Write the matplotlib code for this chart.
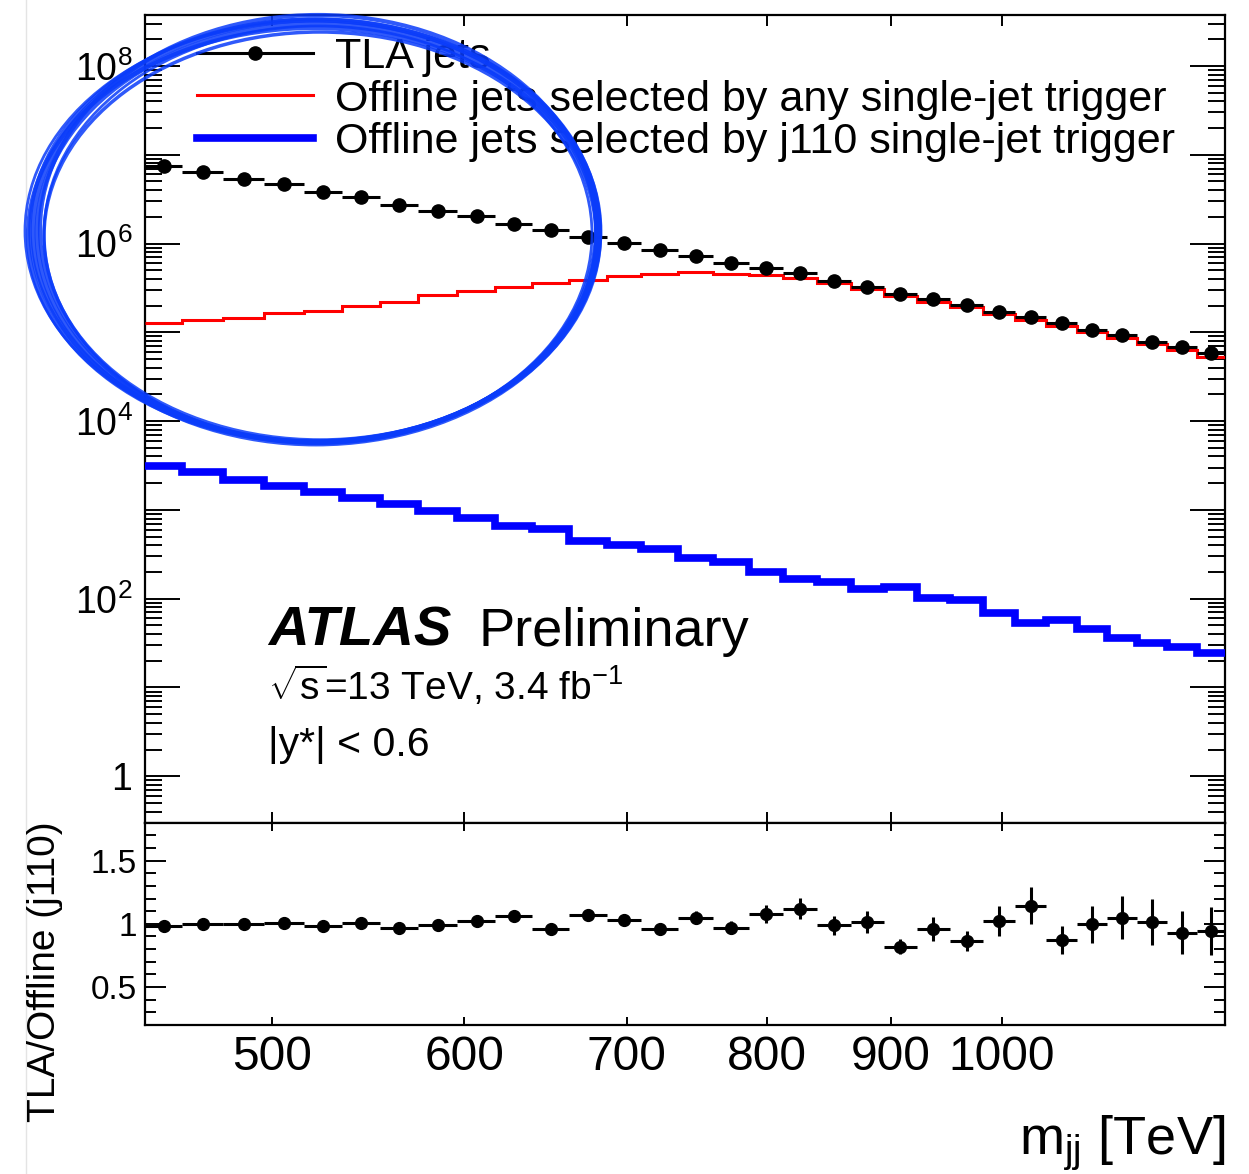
import numpy as np
import matplotlib
matplotlib.use("Agg")
import matplotlib.pyplot as plt
from matplotlib.ticker import FixedLocator, LogLocator, FuncFormatter, MultipleLocator, NullFormatter, NullLocator
from matplotlib.patches import Ellipse
from matplotlib.lines import Line2D

plt.rcParams['font.family'] = ['Liberation Sans', 'DejaVu Sans']
plt.rcParams['mathtext.fontset'] = 'custom'
plt.rcParams['mathtext.rm'] = 'Liberation Sans'
plt.rcParams['mathtext.it'] = 'Liberation Sans:italic'
plt.rcParams['mathtext.bf'] = 'Liberation Sans:bold'

# bin edges in m_jj (GeV, axis says TeV)
mjj_edges = [443, 459, 477, 496, 515, 534, 554, 574, 596, 618, 640, 663, 687, 710, 735, 760,
             786, 812, 839, 866, 894, 922, 952, 982, 1012, 1043, 1074, 1105, 1137, 1170, 1203, 1236]

# events per bin
tla_jets = [7.46e6, 6.44e6, 5.27e6, 4.63e6, 3.77e6, 3.31e6, 2.69e6, 2.34e6, 2.02e6, 1.66e6,
            1.43e6, 1.17e6, 1.02e6, 8.51e5, 7.31e5, 6.07e5, 5.28e5, 4.63e5, 3.77e5, 3.28e5,
            2.69e5, 2.36e5, 2.04e5, 1.69e5, 1.48e5, 1.27e5, 1.07e5, 9.38e4, 7.87e4, 6.92e4, 5.87e4]
offline_any = [1.27e5, 1.36e5, 1.44e5, 1.64e5, 1.76e5, 2.00e5, 2.18e5, 2.60e5, 2.90e5, 3.22e5,
               3.57e5, 3.91e5, 4.32e5, 4.53e5, 4.76e5, 4.57e5, 4.38e5, 4.07e5, 3.57e5, 3.09e5,
               2.54e5, 2.18e5, 1.92e5, 1.61e5, 1.39e5, 1.19e5, 1.00e5, 8.67e4, 7.41e4, 6.35e4, 5.33e4]
offline_j110 = [3150, 2700, 2190, 1875, 1574, 1349, 1167, 962, 811, 664, 610, 450, 406, 362, 287,
                256, 201, 166, 155, 130, 136, 103, 96.4, 69.8, 53.0, 57.8, 45.4, 36.0, 31.6, 28.9, 24.4]

# TLA / Offline (j110)
ratio = [0.98, 1.00, 1.00, 1.005, 0.98, 1.01, 0.97, 0.99, 1.025, 1.06, 0.96, 1.07, 1.03, 0.96, 1.05,
         0.97, 1.08, 1.12, 0.99, 1.015, 0.82, 0.96, 0.865, 1.025, 1.145, 0.87, 0.995, 1.05, 1.015,
         0.93, 0.945]
ratio_err = [0.02, 0.02, 0.02, 0.02, 0.025, 0.025, 0.025, 0.03, 0.03, 0.035, 0.035, 0.04, 0.04,
             0.045, 0.05, 0.05, 0.07, 0.085, 0.075, 0.085, 0.06, 0.095, 0.08, 0.12, 0.15, 0.11,
             0.145, 0.17, 0.18, 0.17, 0.19]

x_ticks = [500, 600, 700, 800, 900, 1000]

edges = np.array(mjj_edges, dtype=float)
centers = 0.5 * (edges[1:] + edges[:-1])
half_w = 0.5 * (edges[1:] - edges[:-1])

W, H = 1249, 1174
fig = plt.figure(figsize=(W / 100, H / 100), dpi=100)

left, right = 145 / W, 1225 / W
ax = fig.add_axes([left, 1 - 822.7 / H, right - left, (822.7 - 14.5) / H])
rax = fig.add_axes([left, 1 - 1025 / H, right - left, (1025 - 822.7) / H], sharex=ax)

# main panel
ax.errorbar(centers, tla_jets, xerr=half_w, fmt='o', color='black', ms=9.5, elinewidth=2.2,
            capsize=0, zorder=5)
ax.stairs(offline_any, edges, baseline=None, color='#ff0000', lw=2.2, zorder=3)
ax.stairs(offline_j110, edges, baseline=None, color='#0000ff', lw=5.5, zorder=3)

ax.set_xscale('log')
ax.set_yscale('log')
ax.set_xlim(443, 1236)
ax.set_ylim(0.3, 3.8e8)


def pow_label(v, pos):
    k = int(round(np.log10(v)))
    if k == 0:
        return '1'
    if k % 2:
        return ''
    return '10$^{%d}$' % k


ax.yaxis.set_major_locator(LogLocator(base=10, numticks=20))
ax.yaxis.set_minor_locator(LogLocator(base=10, subs=np.arange(2, 10), numticks=20))
ax.yaxis.set_major_formatter(FuncFormatter(pow_label))
ax.yaxis.set_minor_formatter(NullFormatter())
ax.xaxis.set_major_locator(FixedLocator(x_ticks))
ax.xaxis.set_minor_locator(NullLocator())
ax.tick_params(axis='x', which='major', direction='in', top=True, bottom=True, length=8, width=1.4,
               labelbottom=False)
ax.tick_params(axis='y', which='major', direction='in', left=True, right=True, length=25.5, width=1.4,
               labelsize=27, pad=9)
ax.tick_params(axis='y', which='minor', direction='in', left=True, right=True, length=12, width=1.4)

handles = [Line2D([], [], color='black', lw=2.2, marker='o', ms=9.5),
           Line2D([], [], color='#ff0000', lw=2.2),
           Line2D([], [], color='#0000ff', lw=5.5)]
labels = ['TLA jets', 'Offline jets selected by any single-jet trigger',
          'Offline jets selected by j110 single-jet trigger']
ax.legend(handles, labels, loc='upper left', bbox_to_anchor=(0.032, 0.993), frameon=False,
          fontsize=31, numpoints=1, handlelength=2.7, handletextpad=0.52, labelspacing=0.05,
          borderaxespad=0.0)

ax.text(0.114, 0.219, 'ATLAS', transform=ax.transAxes, fontsize=40.5, fontweight='bold',
        fontstyle='italic', va='baseline')
ax.text(0.309, 0.219, 'Preliminary', transform=ax.transAxes, fontsize=39, va='baseline')
ax.text(0.114, 0.152, r'$\sqrt{\mathrm{s}}$=13 TeV, 3.4 fb$^{\mathrm{-1}}$', transform=ax.transAxes,
        fontsize=28, va='baseline')
ax.text(0.114, 0.083, '|y*| < 0.6', transform=ax.transAxes, fontsize=29.5, va='baseline')

# ratio panel
rax.errorbar(centers, ratio, xerr=half_w, yerr=ratio_err, fmt='o', color='black', ms=8.5,
             elinewidth=2.2, capsize=0)
rax.set_ylim(0.2, 1.8)
rax.yaxis.set_major_locator(FixedLocator([0.5, 1.0, 1.5]))
rax.yaxis.set_minor_locator(MultipleLocator(0.1))
rax.yaxis.set_major_formatter(FuncFormatter(lambda v, p: '%g' % v))
rax.xaxis.set_major_locator(FixedLocator(x_ticks))
rax.xaxis.set_minor_locator(NullLocator())
rax.xaxis.set_major_formatter(FuncFormatter(lambda v, p: '%d' % v))
rax.tick_params(axis='x', which='major', direction='in', top=True, bottom=True, length=5.5, width=1.4,
                labelsize=34.5, pad=7)
rax.tick_params(axis='y', which='major', direction='in', left=True, right=True, length=15, width=1.4,
                labelsize=24, pad=6)
rax.tick_params(axis='y', which='minor', direction='in', left=True, right=True, length=8, width=1.4)

for a in (ax, rax):
    for s in a.spines.values():
        s.set_linewidth(1.6)

fig.text(45 / W, 1 - 972 / H, 'TLA/Offline (j110)', rotation=90, ha='center', va='center', fontsize=28)
fig.text(1225 / W, 1 - 1155 / H, 'm$_{\\mathrm{jj}}$ [TeV]', ha='right', va='baseline', fontsize=39)

# faint page edge
fig.add_artist(Line2D([25.5 / W, 25.5 / W], [0, 1], transform=fig.transFigure, color='#e4e4e4', lw=1))

# hand-drawn highlight around the low-mass region
over = fig.add_axes([0, 0, 1, 1], zorder=10)
over.set_xlim(0, W)
over.set_ylim(H, 0)
over.axis('off')
strokes = [(316, 232, 566, 424, 3.5), (318, 229, 556, 428, 3.0), (314, 235, 572, 414, 3.0),
           (317, 233, 560, 418, 3.5), (315, 230, 570, 422, 2.5), (320, 236, 552, 408, 2.5),
           (313, 231, 576, 420, 2.0), (318, 234, 548, 416, 2.0)]
for cx, cy, ew, eh, lw in strokes:
    over.add_patch(Ellipse((cx, cy), ew, eh, fill=False, edgecolor='#0a3cfa', lw=lw, alpha=0.85))

fig.savefig('out.png', dpi=100)
